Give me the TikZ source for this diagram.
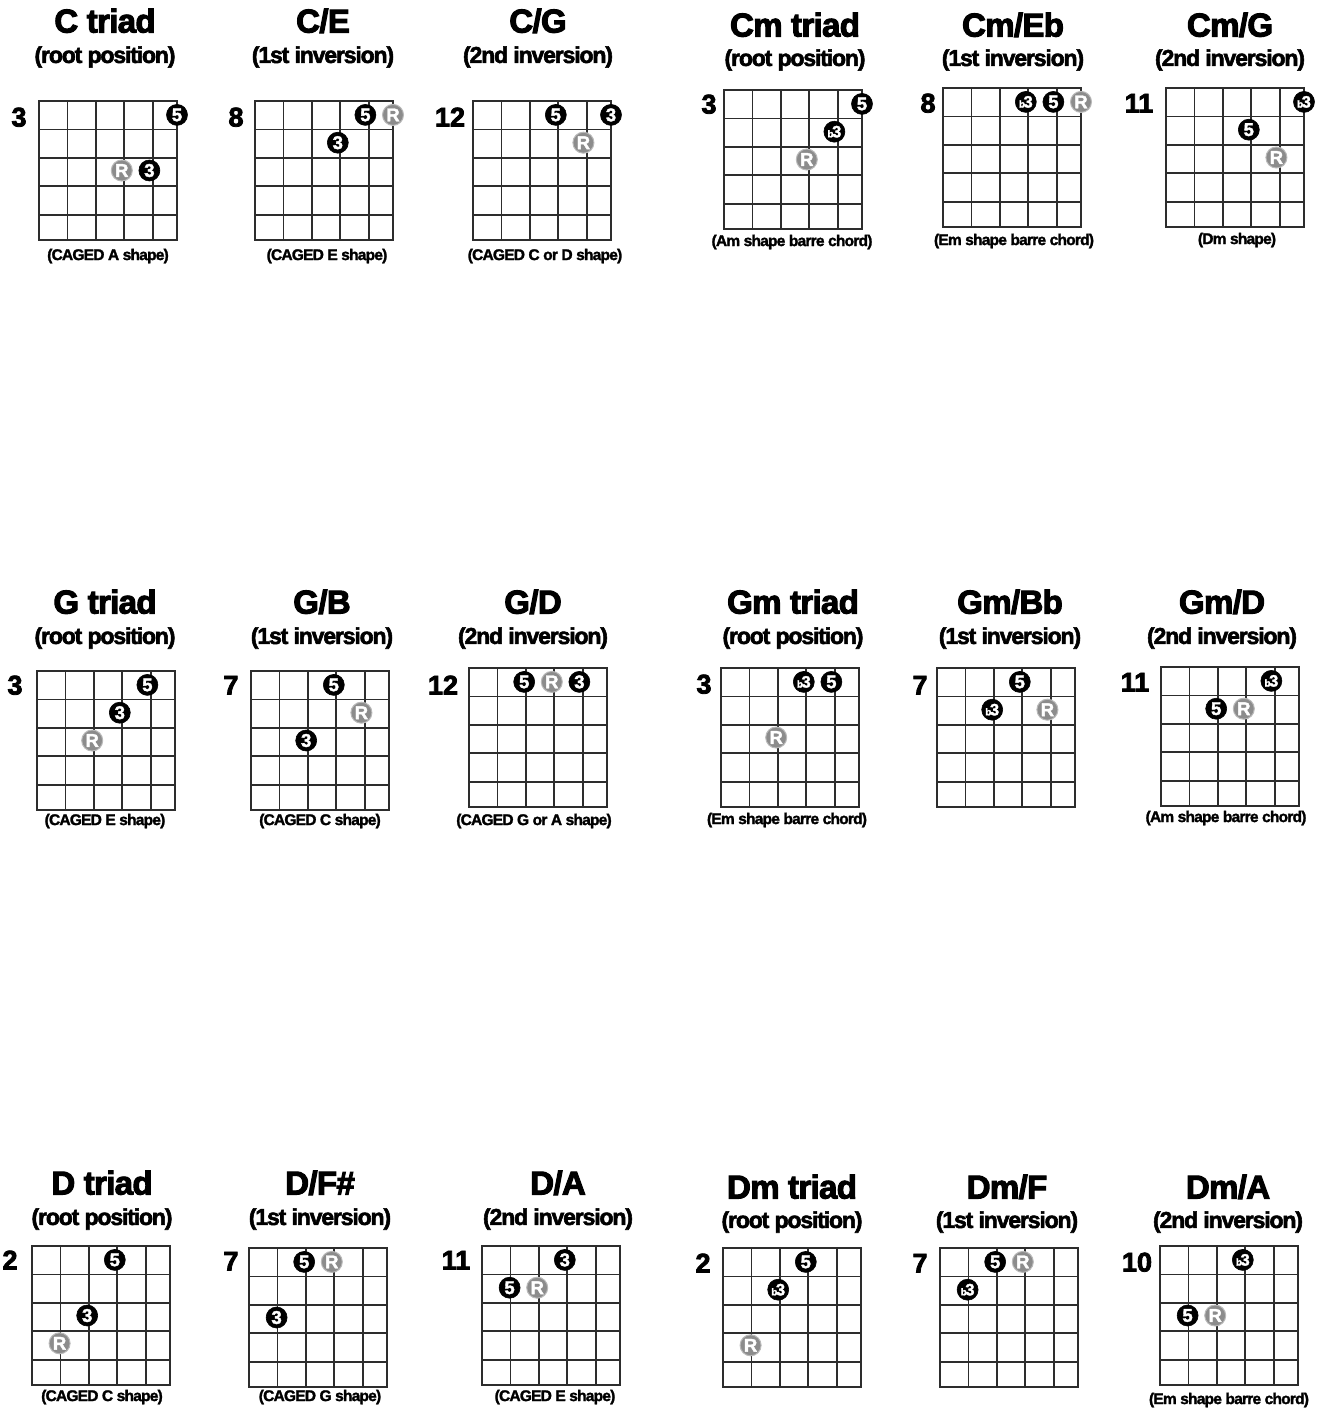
\documentclass[tikz,border=0pt]{standalone}
\usepackage{fontspec}
\setmainfont{Liberation Sans}
\newfontfamily\heavyfont{Liberation Sans Bold}[FakeBold=3.2,LetterSpace=-2]
\newfontfamily\numfont{Liberation Sans Bold}[FakeBold=3]
\newfontfamily\tightfont{Liberation Sans Bold}[FakeBold=2.4,LetterSpace=-5]
\newfontfamily\capfont{Liberation Sans Bold}[FakeBold=1.8,LetterSpace=-5]
\newfontfamily\dotfont{Liberation Sans Bold}[FakeBold=2]
\definecolor{gridc}{RGB}{45,45,45}
\definecolor{rootc}{RGB}{140,140,140}
\definecolor{rootedge}{RGB}{185,185,185}
\tikzset{
  fb/.style={x=27.6pt,y=-27.8pt},
  gridl/.style={draw=gridc,line width=1.8pt},
  ttl/.style={font=\heavyfont\fontsize{33}{33}\selectfont,inner sep=0pt,text height=23pt,text depth=0pt},
  subt/.style={font=\tightfont\fontsize{23}{23}\selectfont,inner sep=0pt,text height=16.7pt,text depth=4.8pt},
  capt/.style={font=\capfont\fontsize{15.5}{15.5}\selectfont,inner sep=0pt,text height=11.3pt,text depth=3.2pt},
  fretno/.style={font=\numfont\fontsize{27}{27}\selectfont,inner sep=0pt,text height=19pt,text depth=0pt},
  dk/.style={circle,fill=black,draw=black,line width=0.6pt,minimum size=21pt,inner sep=0pt,text=white,font=\dotfont\fontsize{18.5}{18.5}\selectfont},
  rt/.style={circle,fill=rootc,draw=rootedge,line width=1pt,minimum size=21pt,inner sep=0pt,text=white,font=\dotfont\fontsize{18.5}{18.5}\selectfont},
}
\newcommand{\flt}{{\fontsize{10}{10}\selectfont b}\kern-1.5pt{\fontsize{16.5}{16.5}\selectfont 3}}
\newcommand{\board}{\draw[gridl] (0,0) grid (5,5) (0,0) rectangle (5,5);}
\begin{document}
\begin{tikzpicture}[x=1pt,y=-1pt]
\useasboundingbox (0,0) rectangle (1325,1409);
\fill[white] (0,0) rectangle (1325,1409);

% ================= Row 1 =================
% C triad
\node[ttl] (t1) at (105,21) {C triad};
\node[subt] (s1) at (105,57) {(root position)};
\node[fretno] (f1) at (19,117) {3};
\begin{scope}[shift={(39,101)},fb]
\board
\node[dk] (d1a) at (5,0.5) {5};
\node[rt] (d1b) at (3,2.5) {R};
\node[dk] (d1c) at (4,2.5) {3};
\end{scope}
\node[capt] (c1) at (108,256) {(CAGED A shape)};

% C/E
\node[ttl] (t2) at (323,21) {C/E};
\node[subt] (s2) at (323,57) {(1st inversion)};
\node[fretno] (f2) at (236,117) {8};
\begin{scope}[shift={(255,101)},fb]
\board
\node[dk] (d2a) at (4,0.5) {5};
\node[rt] (d2b) at (5,0.5) {R};
\node[dk] (d2c) at (3,1.5) {3};
\end{scope}
\node[capt] (c2) at (327,256) {(CAGED E shape)};

% C/G
\node[ttl] (t3) at (538,21) {C/G};
\node[subt] (s3) at (538,57) {(2nd inversion)};
\node[fretno] (f3) at (450,117) {12};
\begin{scope}[shift={(473,101)},fb]
\board
\node[dk] (d3a) at (3,0.5) {5};
\node[dk] (d3b) at (5,0.5) {3};
\node[rt] (d3c) at (4,1.5) {R};
\end{scope}
\node[capt] (c3) at (545,256) {(CAGED C or D shape)};

% Cm triad
\node[ttl] (t4) at (795,25) {Cm triad};
\node[subt] (s4) at (795,60) {(root position)};
\node[fretno] (f4) at (709,104) {3};
\begin{scope}[shift={(724,90)},fb]
\board
\node[dk] (d4a) at (5,0.5) {5};
\node[dk] (d4b) at (4,1.5) {\flt};
\node[rt] (d4c) at (3,2.5) {R};
\end{scope}
\node[capt] (c4) at (792,242) {(Am shape barre chord)};

% Cm/Eb
\node[ttl] (t5) at (1013,25) {Cm/Eb};
\node[subt] (s5) at (1013,60) {(1st inversion)};
\node[fretno] (f5) at (928,103) {8};
\begin{scope}[shift={(943,88)},fb]
\board
\node[dk] (d5a) at (3,0.5) {\flt};
\node[dk] (d5b) at (4,0.5) {5};
\node[rt] (d5c) at (5,0.5) {R};
\end{scope}
\node[capt] (c5) at (1014,241) {(Em shape barre chord)};

% Cm/G
\node[ttl] (t6) at (1230,25) {Cm/G};
\node[subt] (s6) at (1230,60) {(2nd inversion)};
\node[fretno] (f6) at (1139,103) {11};
\begin{scope}[shift={(1166,88)},fb]
\board
\node[dk] (d6a) at (5,0.5) {\flt};
\node[dk] (d6b) at (3,1.5) {5};
\node[rt] (d6c) at (4,2.5) {R};
\end{scope}
\node[capt] (c6) at (1237,240) {(Dm shape)};

% ================= Row 2 =================
% G triad
\node[ttl] (t7) at (105,602) {G triad};
\node[subt] (s7) at (105,638) {(root position)};
\node[fretno] (f7) at (15,685) {3};
\begin{scope}[shift={(37,671)},fb]
\board
\node[dk] (d7a) at (4,0.5) {5};
\node[dk] (d7b) at (3,1.5) {3};
\node[rt] (d7c) at (2,2.5) {R};
\end{scope}
\node[capt] (c7) at (105,821) {(CAGED E shape)};

% G/B
\node[ttl] (t8) at (322,602) {G/B};
\node[subt] (s8) at (322,638) {(1st inversion)};
\node[fretno] (f8) at (231,685) {7};
\begin{scope}[shift={(251,671)},fb]
\board
\node[dk] (d8a) at (3,0.5) {5};
\node[rt] (d8b) at (4,1.5) {R};
\node[dk] (d8c) at (2,2.5) {3};
\end{scope}
\node[capt] (c8) at (320,821) {(CAGED C shape)};

% G/D
\node[ttl] (t9) at (533,602) {G/D};
\node[subt] (s9) at (533,638) {(2nd inversion)};
\node[fretno] (f9) at (443,685) {12};
\begin{scope}[shift={(469,668)},fb]
\board
\node[dk] (d9a) at (2,0.5) {5};
\node[rt] (d9b) at (3,0.5) {R};
\node[dk] (d9c) at (4,0.5) {3};
\end{scope}
\node[capt] (c9) at (534,821) {(CAGED G or A shape)};

% Gm triad
\node[ttl] (t10) at (793,602) {Gm triad};
\node[subt] (s10) at (793,638) {(root position)};
\node[fretno] (f10) at (704,684) {3};
\begin{scope}[shift={(721,668)},fb]
\board
\node[dk] (d10a) at (3,0.5) {\flt};
\node[dk] (d10b) at (4,0.5) {5};
\node[rt] (d10c) at (2,2.5) {R};
\end{scope}
\node[capt] (c10) at (787,820) {(Em shape barre chord)};

% Gm/Bb
\node[ttl] (t11) at (1010,602) {Gm/Bb};
\node[subt] (s11) at (1010,638) {(1st inversion)};
\node[fretno] (f11) at (920,685) {7};
\begin{scope}[shift={(937,668)},fb]
\board
\node[dk] (d11a) at (3,0.5) {5};
\node[dk] (d11b) at (2,1.5) {\flt};
\node[rt] (d11c) at (4,1.5) {R};
\end{scope}

% Gm/D
\node[ttl] (t12) at (1222,602) {Gm/D};
\node[subt] (s12) at (1222,638) {(2nd inversion)};
\node[fretno] (f12) at (1135,682) {11};
\begin{scope}[shift={(1161,667)},fb]
\board
\node[dk] (d12a) at (4,0.5) {\flt};
\node[dk] (d12b) at (2,1.5) {5};
\node[rt] (d12c) at (3,1.5) {R};
\end{scope}
\node[capt] (c12) at (1226,818) {(Am shape barre chord)};

% ================= Row 3 =================
% D triad
\node[ttl] (t13) at (102,1183) {D triad};
\node[subt] (s13) at (102,1219) {(root position)};
\node[fretno] (f13) at (10,1260) {2};
\begin{scope}[shift={(32,1246)},fb]
\board
\node[dk] (d13a) at (3,0.5) {5};
\node[dk] (d13b) at (2,2.5) {3};
\node[rt] (d13c) at (1,3.5) {R};
\end{scope}
\node[capt] (c13) at (102,1397) {(CAGED C shape)};

% D/F#
\node[ttl] (t14) at (320,1183) {D/F\#};
\node[subt] (s14) at (320,1219) {(1st inversion)};
\node[fretno] (f14) at (231,1261) {7};
\begin{scope}[shift={(249,1248)},fb]
\board
\node[dk] (d14a) at (2,0.5) {5};
\node[rt] (d14b) at (3,0.5) {R};
\node[dk] (d14c) at (1,2.5) {3};
\end{scope}
\node[capt] (c14) at (320,1397) {(CAGED G shape)};

% D/A
\node[ttl] (t15) at (558,1183) {D/A};
\node[subt] (s15) at (558,1219) {(2nd inversion)};
\node[fretno] (f15) at (456,1260) {11};
\begin{scope}[shift={(482,1246)},fb]
\board
\node[dk] (d15a) at (3,0.5) {3};
\node[dk] (d15b) at (1,1.5) {5};
\node[rt] (d15c) at (2,1.5) {R};
\end{scope}
\node[capt] (c15) at (555,1397) {(CAGED E shape)};

% Dm triad
\node[ttl] (t16) at (792,1187) {Dm triad};
\node[subt] (s16) at (792,1222) {(root position)};
\node[fretno] (f16) at (703,1263) {2};
\begin{scope}[shift={(723,1248)},fb]
\board
\node[dk] (d16a) at (3,0.5) {5};
\node[dk] (d16b) at (2,1.5) {\flt};
\node[rt] (d16c) at (1,3.5) {R};
\end{scope}

% Dm/F
\node[ttl] (t17) at (1007,1187) {Dm/F};
\node[subt] (s17) at (1007,1222) {(1st inversion)};
\node[fretno] (f17) at (920,1263) {7};
\begin{scope}[shift={(940,1248)},fb]
\board
\node[dk] (d17a) at (2,0.5) {5};
\node[rt] (d17b) at (3,0.5) {R};
\node[dk] (d17c) at (1,1.5) {\flt};
\end{scope}

% Dm/A
\node[ttl] (t18) at (1228,1187) {Dm/A};
\node[subt] (s18) at (1228,1222) {(2nd inversion)};
\node[fretno] (f18) at (1137,1262) {10};
\begin{scope}[shift={(1160,1246)},fb]
\board
\node[dk] (d18a) at (3,0.5) {\flt};
\node[dk] (d18b) at (1,2.5) {5};
\node[rt] (d18c) at (2,2.5) {R};
\end{scope}
\node[capt] (c18) at (1229,1400) {(Em shape barre chord)};
\end{tikzpicture}
\end{document}
